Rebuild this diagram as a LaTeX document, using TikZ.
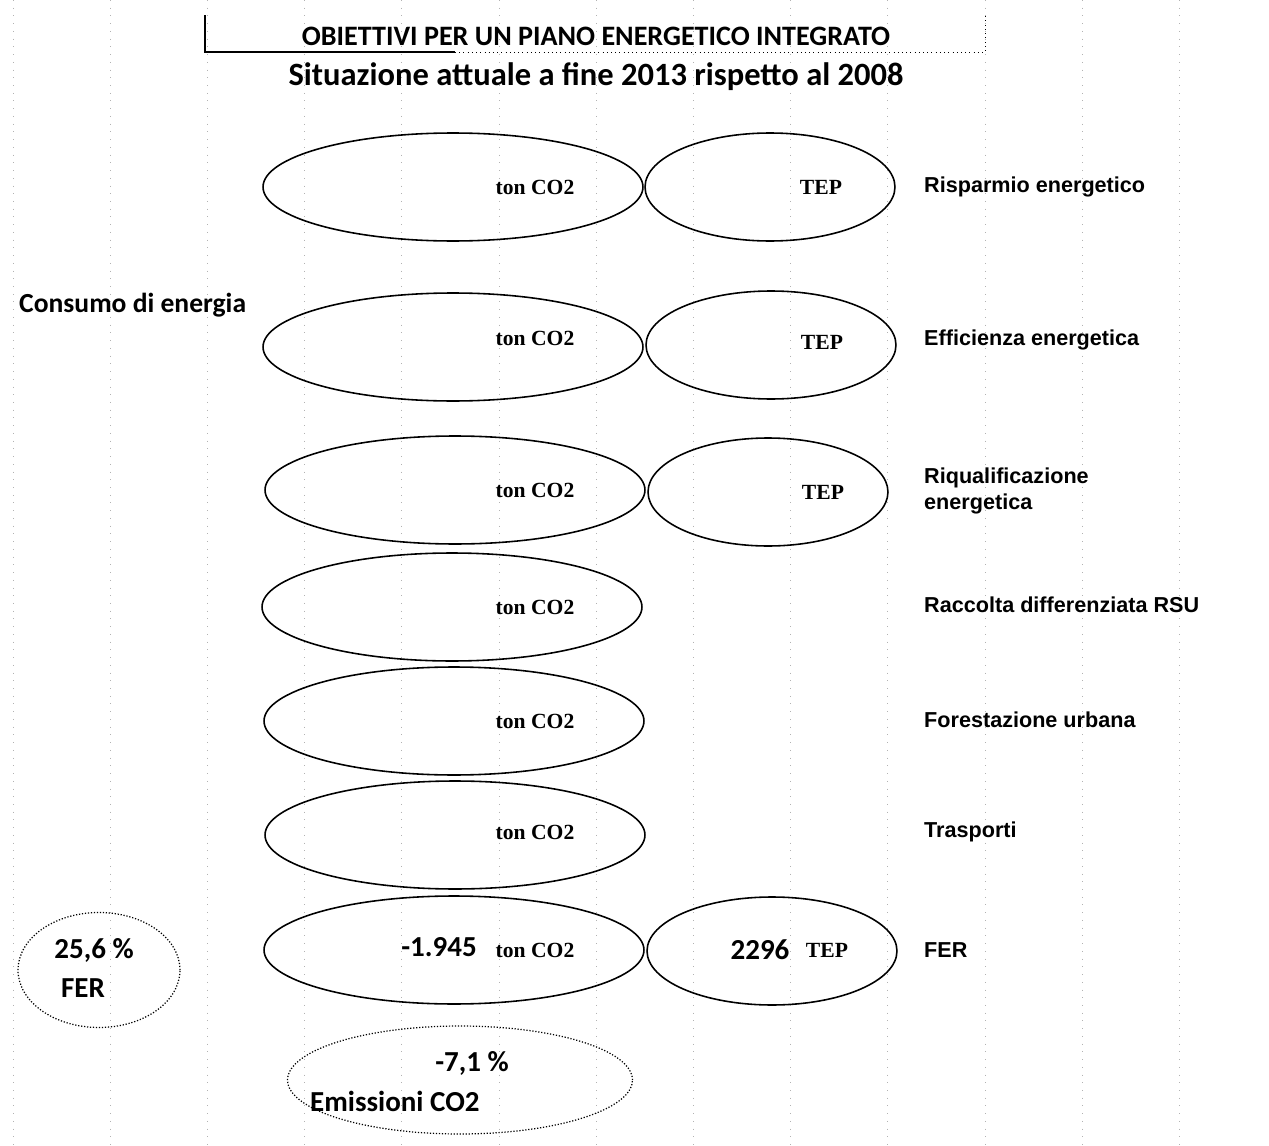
\documentclass[tikz,border=0pt]{standalone}
\usepackage{fontspec}
\setmainfont{Carlito}
\newfontfamily\vocefont{Liberation Sans}
\newfontfamily\unitfont{Liberation Serif}
\usetikzlibrary{shapes.geometric}

\tikzset{
  co2oval/.style={ellipse, draw, line width=0.9pt, minimum width=7.6cm, minimum height=2.16cm, inner sep=0pt},
  tepoval/.style={ellipse, draw, line width=0.9pt, minimum width=5cm, minimum height=2.16cm, inner sep=0pt},
  esitooval/.style={ellipse, draw, densely dotted, line width=0.7pt, inner sep=0pt},
  unita/.style={font=\unitfont\bfseries\fontsize{12.3}{14}\selectfont},
  voce/.style={font=\vocefont\bfseries\fontsize{12.3}{14.5}\selectfont, anchor=west, align=left},
  valore/.style={font=\bfseries\fontsize{16.5}{19}\selectfont},
  cella/.style={gray!60, line width=0.4pt, loosely dotted}
}

\begin{document}
\begin{tikzpicture}[x=0.02cm, y=-0.02cm]
    \useasboundingbox (0,0) rectangle (1269,1146);

    % Sheet grid
    \foreach \gx in {0,...,12}
        \draw[cella] (13+97.2*\gx, 0) -- (13+97.2*\gx, 1146);

    % Title frame
    \draw[line width=0.8pt] (205, 15) -- (205, 52) -- (455, 52);
    \draw[dotted] (455, 52) -- (985, 52) -- (985, 15);
    \node[font=\bfseries\fontsize{16}{18}\selectfont] (titolo) at (596, 36) {OBIETTIVI PER UN PIANO ENERGETICO INTEGRATO};
    \node[font=\bfseries\fontsize{18.5}{21}\selectfont] (sottotitolo) at (596, 77) {Situazione attuale a fine 2013 rispetto al 2008};

    % Left side
    \node[font=\bfseries\fontsize{15.7}{18}\selectfont, anchor=west] (consumo) at (13, 305) {Consumo di energia};

    % CO2 ovals
    \node[co2oval] (co2a) at (453, 187) {};
    \node[co2oval] (co2b) at (453, 347) {};
    \node[co2oval] (co2c) at (455, 490) {};
    \node[co2oval] (co2d) at (452, 607) {};
    \node[co2oval] (co2e) at (454, 721) {};
    \node[co2oval] (co2f) at (455, 835) {};
    \node[co2oval] (co2g) at (454, 950) {};

    % TEP ovals
    \node[tepoval] (tepa) at (770, 187) {};
    \node[tepoval] (tepb) at (771, 345) {};
    \node[tepoval, minimum width=4.8cm] (tepc) at (768, 492) {};
    \node[tepoval] (tepg) at (772, 951) {};

    % Units
    \node[unita] (ua) at (535, 187) {ton CO2};
    \node[unita] (ub) at (535, 338) {ton CO2};
    \node[unita] (uc) at (535, 490) {ton CO2};
    \node[unita] (ud) at (535, 607) {ton CO2};
    \node[unita] (ue) at (535, 721) {ton CO2};
    \node[unita] (uf) at (535, 832) {ton CO2};
    \node[unita] (ug) at (535, 950) {ton CO2};
    \node[unita] (ta) at (821, 187) {TEP};
    \node[unita] (tb) at (822, 342) {TEP};
    \node[unita] (tc) at (823, 492) {TEP};
    \node[unita] (tg) at (827, 950) {TEP};

    % Values
    \node[valore] (vco2) at (439, 947) {-1.945};
    \node[valore] (vtep) at (760, 950) {2296};

    % Items
    \node[voce] (risparmio) at (918, 187) {Risparmio energetico};
    \node[voce] (efficienza) at (918, 340) {Efficienza energetica};
    \node[voce] (riqualifica) at (918, 491) {Riqualificazione\\energetica};
    \node[voce] (raccolta) at (918, 605) {Raccolta differenziata RSU};
    \node[voce] (forestazione) at (918, 720) {Forestazione urbana};
    \node[voce] (trasporti) at (918, 832) {Trasporti};
    \node[voce] (fer) at (918, 950) {FER};

    % Results
    \node[esitooval, minimum width=3.24cm, minimum height=2.3cm] (quotafer) at (99, 970) {};
    \node[valore] at (94, 950) {25,6 \%};
    \node[valore] at (83, 988) {FER};
    \node[esitooval, minimum width=6.9cm, minimum height=2.16cm] (emissioni) at (460, 1080) {};
    \node[valore] at (472, 1063) {-7,1 \%};
    \node[valore, anchor=west] at (304, 1101) {Emissioni CO2};
\end{tikzpicture}
\end{document}
